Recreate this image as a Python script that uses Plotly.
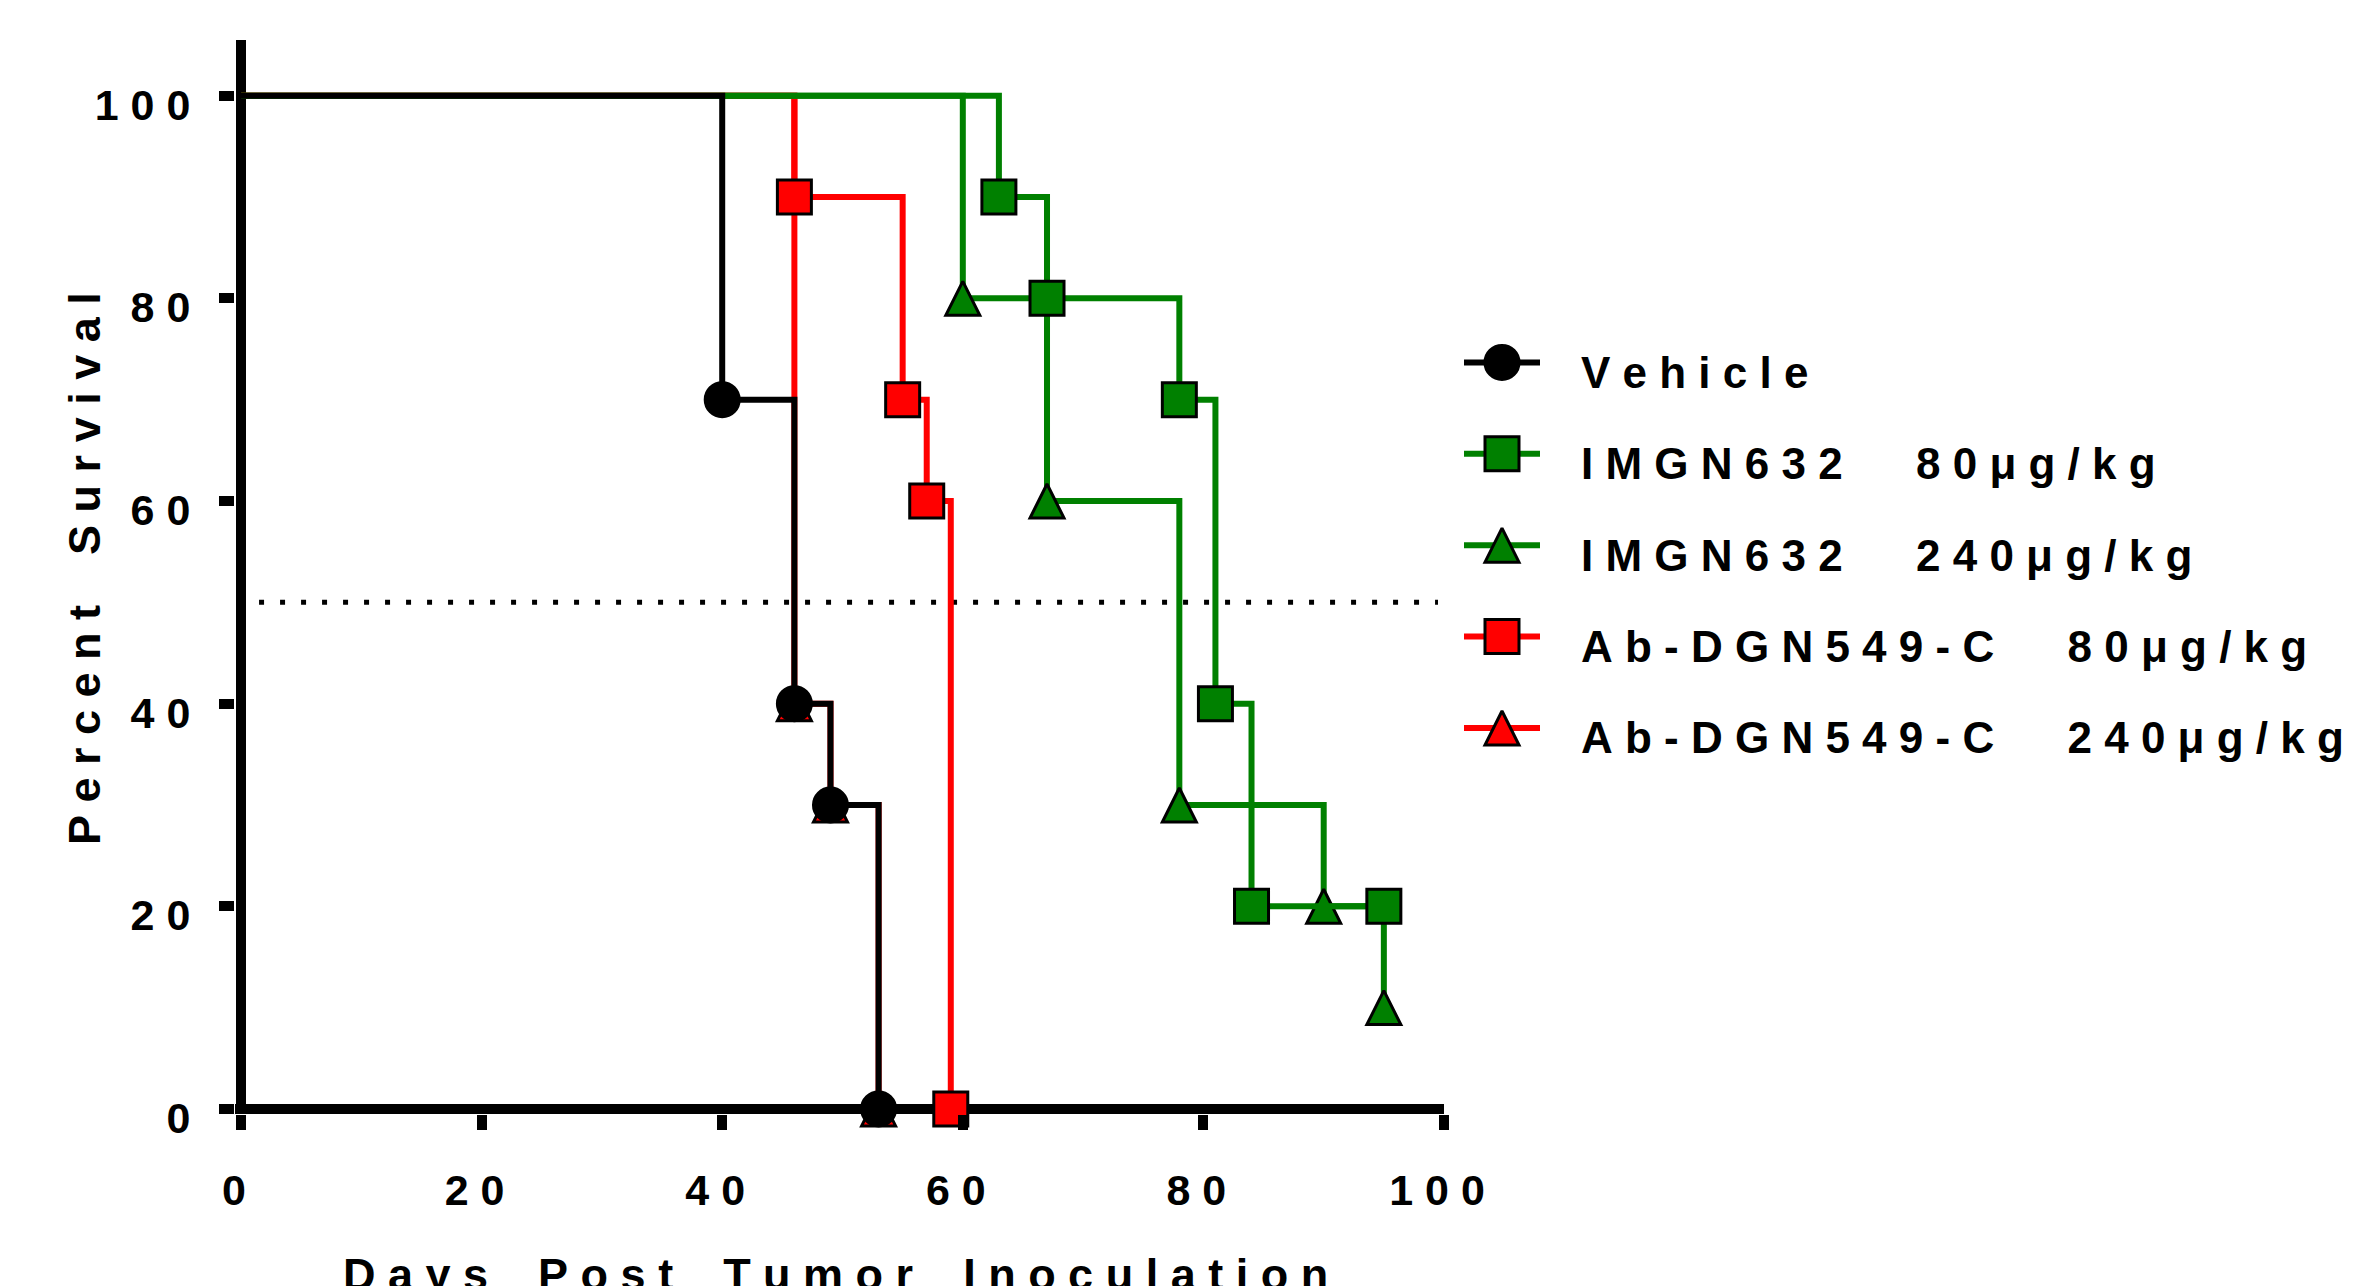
import plotly.graph_objects as go

# ---------------- data ----------------
series_names = [
    "Vehicle",
    "IMGN632 80μg/kg",
    "IMGN632 240μg/kg",
    "Ab-DGN549-C 80μg/kg",
    "Ab-DGN549-C 240μg/kg",
]
legend_labels = [
    "V e h i c l e",
    "I M G N 6 3 2      8 0 μ g / k g",
    "I M G N 6 3 2      2 4 0 μ g / k g",
    "A b - D G N 5 4 9 - C      8 0 μ g / k g",
    "A b - D G N 5 4 9 - C      2 4 0 μ g / k g",
]

vehicle_days = [0, 40, 46, 49, 53]
vehicle_surv = [100, 70, 40, 30, 0]

imgn80_days = [0, 63, 67, 78, 81, 84, 95]
imgn80_surv = [100, 90, 80, 70, 40, 20, 20]

imgn240_days = [0, 60, 67, 78, 90, 95]
imgn240_surv = [100, 80, 60, 30, 20, 10]

ab80_days = [0, 46, 55, 57, 59]
ab80_surv = [100, 90, 70, 60, 0]

ab240_days = [0, 46, 49, 53]
ab240_surv = [100, 40, 30, 0]

x_tick_vals = [0, 20, 40, 60, 80, 100]
x_tick_labels = ["0", "2 0", "4 0", "6 0", "8 0", "1 0 0"]
y_tick_vals = [0, 20, 40, 60, 80, 100]
y_tick_labels = ["0", "2 0", "4 0", "6 0", "8 0", "1 0 0"]

median_level = 50
x_title = "D a y s    P o s t    T u m o r    I n o c u l a t i o n"
y_title = "P e r c e n t    S u r v i v a l"


def sp(s):
    return s.replace(" ", "\u00a0")


# ---------------- styling ----------------
W, H = 2360, 1286
ML, MR, MT, MB = 235, 0, 40, 172
PW = W - ML - MR
PH = H - MT - MB

FONT = "Liberation Sans, Arial, Helvetica, sans-serif"
BLACK = "#000000"
GREEN = "#008000"
RED = "#FF0000"
MSIZE = 34


def marker_style(symbol, color):
    m = dict(size=MSIZE, color=color, line=dict(color=BLACK, width=3))
    if symbol == "triangle":
        m.update(symbol="arrow-down", angle=180, standoff=MSIZE / 2)
    else:
        m.update(symbol=symbol)
    return m


series = [
    # (name index, days, surv, color, symbol) drawn bottom to top
    (4, ab240_days, ab240_surv, RED, "triangle"),
    (3, ab80_days, ab80_surv, RED, "square"),
    (2, imgn240_days, imgn240_surv, GREEN, "triangle"),
    (1, imgn80_days, imgn80_surv, GREEN, "square"),
    (0, vehicle_days, vehicle_surv, BLACK, "circle"),
]

fig = go.Figure()

for idx, days, surv, color, sym in series:
    fig.add_trace(go.Scatter(
        x=days, y=surv, mode="lines", line=dict(color=color, width=6, shape="hv"),
        name=series_names[idx], showlegend=False, cliponaxis=False, hoverinfo="skip",
    ))
    fig.add_trace(go.Scatter(
        x=days[1:], y=surv[1:], mode="markers", marker=marker_style(sym, color),
        name=series_names[idx], showlegend=False, cliponaxis=False,
    ))

# ---------------- custom legend (secondary axes) ----------------
legend_style = {
    0: (BLACK, "circle"),
    1: (GREEN, "square"),
    2: (GREEN, "triangle"),
    3: (RED, "square"),
    4: (RED, "triangle"),
}
for i, name in enumerate(series_names):
    color, sym = legend_style[i]
    fig.add_trace(go.Scatter(
        x=[0, 1], y=[name, name], mode="lines", line=dict(color=color, width=6),
        xaxis="x2", yaxis="y2", showlegend=False, hoverinfo="skip", cliponaxis=False,
    ))
    fig.add_trace(go.Scatter(
        x=[0.5], y=[name], mode="markers", marker=marker_style(sym, color),
        xaxis="x2", yaxis="y2", showlegend=False, hoverinfo="skip", cliponaxis=False,
    ))


def px_x(p):
    return (p - ML) / PW


def px_y(p):
    return (H - MB - p) / PH


row_top, row_step = 362.4, 91.4
fig.update_layout(
    width=W, height=H,
    margin=dict(l=ML, r=MR, t=MT, b=MB, autoexpand=False),
    paper_bgcolor="white", plot_bgcolor="white",
    font=dict(family=FONT, color=BLACK, size=43, weight="bold"),
    xaxis=dict(
        domain=[0, px_x(1444)], range=[-0.5, 100], autorange=False,
        showgrid=False, showline=False,
        zeroline=True, zerolinecolor=BLACK, zerolinewidth=10,
        ticks="outside", ticklen=15, tickwidth=10, tickcolor=BLACK,
        tickvals=x_tick_vals, ticktext=[sp(t) for t in x_tick_labels],
        tickfont=dict(family=FONT, size=43, color=BLACK, weight="bold"),
        ticklabelstandoff=23, ticklabelshift=-7, automargin=False,
    ),
    yaxis=dict(
        range=[-0.5, 105.5], autorange=False,
        showgrid=False, showline=False,
        zeroline=True, zerolinecolor=BLACK, zerolinewidth=10,
        ticks="outside", ticklen=15, tickwidth=10, tickcolor=BLACK,
        tickvals=y_tick_vals, ticktext=[sp(t) for t in y_tick_labels],
        tickfont=dict(family=FONT, size=43, color=BLACK, weight="bold"),
        ticklabelstandoff=20, ticklabelshift=9, automargin=False,
    ),
    xaxis2=dict(
        domain=[px_x(1464), px_x(1540)], range=[0, 1], autorange=False,
        visible=False, anchor="y2", automargin=False,
    ),
    yaxis2=dict(
        domain=[px_y(row_top + 4 * row_step + row_step / 2), px_y(row_top - row_step / 2)],
        type="category", categoryarray=series_names, range=[4.5, -0.5], autorange=False,
        anchor="x2", side="right", showgrid=False, showline=False, zeroline=False,
        ticks="", tickvals=series_names, ticktext=[sp(t) for t in legend_labels],
        tickfont=dict(family=FONT, size=44, color=BLACK, weight="bold"),
        ticklabelstandoff=40, ticklabelshift=-10, automargin=False,
    ),
    shapes=[dict(
        type="line", xref="x", yref="y", x0=1.5, x1=99.5, y0=median_level, y1=median_level,
        line=dict(color=BLACK, width=5, dash="5px,16px"), layer="below",
    )],
    annotations=[
        dict(text=sp(y_title), xref="paper", yref="paper", x=px_x(84), y=px_y(568),
             xanchor="center", yanchor="middle", textangle=-90, showarrow=False,
             font=dict(family=FONT, size=45, color=BLACK, weight="bold")),
        dict(text=sp(x_title), xref="paper", yref="paper", x=px_x(835.5), y=px_y(1274),
             xanchor="center", yanchor="middle", showarrow=False,
             font=dict(family=FONT, size=45, color=BLACK, weight="bold")),
    ],
    showlegend=False,
)

fig.write_html("out.html", config={"displayModeBar": False},
               post_script="document.body.style.margin='0';document.body.style.overflow='hidden';")
